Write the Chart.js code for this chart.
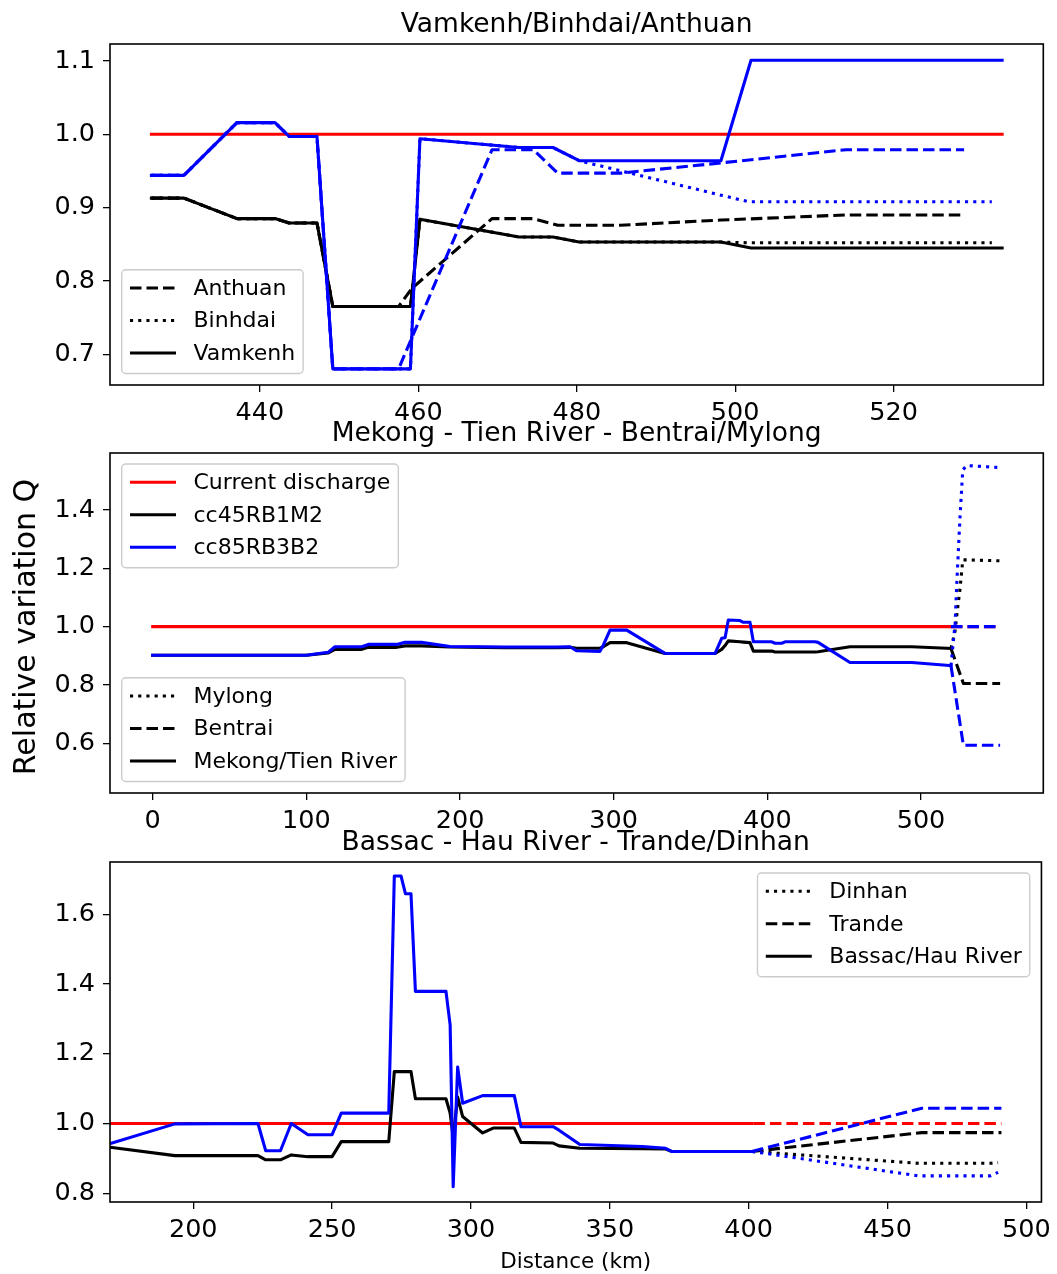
<!DOCTYPE html>
<html>
<head>
<meta charset="utf-8">
<title>Relative variation of discharge along the Mekong branches</title>
<script src="https://cdn.jsdelivr.net/npm/chart.js@4/dist/chart.umd.min.js"></script>
<style>
  html, body { margin: 0; padding: 0; background: #fff; }
  body { width: 1057px; height: 1274px; position: relative; overflow: hidden; }
  canvas { position: absolute; left: 0; }
</style>
</head>
<body>
<canvas id="upper" width="1057" height="431" style="top:0px"></canvas>
<canvas id="tien" width="1057" height="430" style="top:409px"></canvas>
<canvas id="hau" width="1057" height="456" style="top:818px"></canvas>
<script>
// ---- Vamkenh / Binhdai / Anthuan (km, relative discharge) ----
const vamkenhKm   = [426.3, 430.4, 437.1, 441.9, 443.7, 447.2, 449.2, 459.0, 460.2, 472.7, 477.0, 480.3, 498.2, 502.0, 533.7];
const vamkenhCc45 = [0.913, 0.913, 0.885, 0.885, 0.879, 0.879, 0.765, 0.765, 0.884, 0.860, 0.860, 0.853, 0.853, 0.845, 0.845];
const vamkenhCc85 = [0.944, 0.944, 1.016, 1.016, 0.997, 0.997, 0.680, 0.680, 0.994, 0.982, 0.982, 0.964, 0.964, 1.101, 1.101];

const binhdaiKm   = [426.3, 430.4, 437.1, 441.9, 443.7, 447.2, 449.2, 459.0, 460.2, 472.7, 477.0, 480.3, 498.2, 501.7, 532.4];
const binhdaiCc45 = [0.913, 0.913, 0.885, 0.885, 0.879, 0.879, 0.765, 0.765, 0.884, 0.860, 0.860, 0.853, 0.853, 0.852, 0.852];
const binhdaiCc85 = [0.944, 0.944, 1.016, 1.016, 0.997, 0.997, 0.680, 0.680, 0.994, 0.982, 0.982, 0.964, 0.917, 0.908, 0.908];

const anthuanKm   = [426.3, 430.4, 437.1, 441.9, 443.7, 447.2, 449.2, 457.5, 459.2, 469.3, 474.5, 477.6, 485.5, 498.2, 514.0, 528.9];
const anthuanCc45 = [0.913, 0.913, 0.885, 0.885, 0.879, 0.879, 0.765, 0.765, 0.790, 0.885, 0.885, 0.876, 0.876, 0.883, 0.890, 0.890];
const anthuanCc85 = [0.944, 0.944, 1.016, 1.016, 0.997, 0.997, 0.680, 0.680, 0.723, 0.979, 0.979, 0.947, 0.947, 0.961, 0.979, 0.979];

const upperCurrentKm = [426.3, 533.7];
const upperCurrent   = [1.0, 1.0];
const upperXTicks = [440, 460, 480, 500, 520];
const upperYTicks = [0.7, 0.8, 0.9, 1.0, 1.1];

// ---- Mekong - Tien River with Bentrai / Mylong ----
const tienKm   = [0, 100, 114.3, 118.6, 136, 140.3, 158.8, 164.2, 175, 193.5, 229, 263, 271.6, 276, 291, 293.3, 297.6, 308.5, 333.4, 366, 370.3, 372.5, 374.6, 382.2, 384.4, 388.7, 390.9, 402.9, 405, 409.4, 411.5, 431, 433, 453.8, 494, 519.5];
const tienCc45 = [0.902, 0.902, 0.910, 0.922, 0.922, 0.929, 0.929, 0.934, 0.934, 0.930, 0.928, 0.928, 0.929, 0.926, 0.926, 0.931, 0.945, 0.945, 0.908, 0.908, 0.922, 0.935, 0.951, 0.948, 0.947, 0.945, 0.916, 0.916, 0.913, 0.913, 0.913, 0.913, 0.914, 0.931, 0.931, 0.925];
const tienCc85 = [0.902, 0.902, 0.912, 0.931, 0.931, 0.939, 0.939, 0.946, 0.946, 0.932, 0.930, 0.930, 0.931, 0.917, 0.915, 0.937, 0.988, 0.988, 0.908, 0.908, 0.960, 0.962, 1.023, 1.021, 1.015, 1.015, 0.948, 0.948, 0.943, 0.943, 0.948, 0.948, 0.946, 0.877, 0.877, 0.866];

const mylongKm   = [519.5, 522.2, 523.3, 525.4, 527.2, 529.8, 551.5];
const mylongCc45 = [0.925, 0.985, 1.040, 1.130, 1.229, 1.229, 1.226];
const mylongCc85 = [0.866, 1.011, 1.149, 1.377, 1.538, 1.553, 1.546];

const bentraiKm   = [519.5, 527.6, 551.5];
const bentraiCc45 = [0.925, 0.805, 0.805];
const bentraiCc85 = [0.866, 0.593, 0.593];

const tienCurrentKm    = [0, 519.5];
const tienCurrent      = [1.0, 1.0];
const bentraiCurrentKm = [519.5, 551.5];
const bentraiCurrent   = [1.0, 1.0];
const tienXTicks = [0, 100, 200, 300, 400, 500];
const tienYTicks = [0.6, 0.8, 1.0, 1.2, 1.4];

// ---- Bassac - Hau River with Trande / Dinhan ----
const bassacKm   = [170, 193.4, 223.3, 226.1, 231.4, 235.3, 241.3, 250.0, 253.3, 270.4, 272.4, 274.8, 276.4, 278.4, 280.0, 291.0, 292.5, 293.6, 295.2, 297.0, 304.2, 308.0, 315.6, 318.0, 329.6, 331.7, 339.2, 361.7, 370.1, 372.2, 401.2];
const bassacCc45 = [0.932, 0.908, 0.908, 0.896, 0.896, 0.910, 0.905, 0.905, 0.948, 0.948, 1.149, 1.149, 1.149, 1.149, 1.071, 1.071, 1.030, 0.960, 1.076, 1.020, 0.973, 0.987, 0.987, 0.946, 0.944, 0.936, 0.929, 0.928, 0.927, 0.920, 0.920];
const bassacCc85 = [0.942, 0.999, 1.000, 0.922, 0.922, 1.000, 0.968, 0.968, 1.030, 1.030, 1.710, 1.710, 1.659, 1.659, 1.379, 1.379, 1.283, 0.819, 1.162, 1.058, 1.080, 1.080, 1.080, 0.991, 0.991, 0.981, 0.940, 0.934, 0.929, 0.920, 0.920];

const trandeKm   = [401.2, 462.3, 491.0];
const trandeCc45 = [0.920, 0.974, 0.974];
const trandeCc85 = [0.920, 1.044, 1.044];

const dinhanKm   = [401.2, 461.1, 487.0, 489.8];
const dinhanCc45 = [0.920, 0.886, 0.886, 0.888];
const dinhanCc85 = [0.920, 0.850, 0.850, 0.860];

const bassacCurrentKm = [170, 401.2];
const bassacCurrent   = [1.0, 1.0];
const trandeCurrentKm = [170, 491.0];
const trandeCurrent   = [1.0, 1.0];
const hauXTicks = [200, 250, 300, 350, 400, 450, 500];
const hauYTicks = [0.8, 1.0, 1.2, 1.4, 1.6];

// ---- styling ----
const FONT = '"DejaVu Sans", sans-serif';
const RED = '#ff0000', BLACK = '#000000', BLUE = '#0000ff';
const LW = 3.1;
const DASHES = { solid: [], dashed: [11.5, 5], dotted: [3.1, 5.1] };

Chart.defaults.font.family = FONT;

function line(km, values, color, style) {
  return {
    data: km.map((x, i) => ({ x, y: values[i] })),
    borderColor: color,
    borderWidth: LW,
    borderDash: DASHES[style],
    borderCapStyle: style === 'solid' ? 'square' : 'butt',
    borderJoinStyle: 'round',
    pointRadius: 0,
    fill: false,
    tension: 0
  };
}

function drawLegend(ctx, area, lg) {
  const fs = 22, rowH = 32.5, padTop = 18.3, padBot = 20.5;
  const padL = 8.3, handle = 46, gap = 17.5, padR = 8;
  ctx.font = `${fs}px ${FONT}`;
  const tw = Math.max(...lg.items.map(it => ctx.measureText(it.label).width));
  const w = padL + handle + gap + tw + padR;
  const h = padTop + (lg.items.length - 1) * rowH + padBot;
  const x = lg.loc.endsWith('left') ? area.left + 11.7 : area.right - 11.7 - w;
  const y = lg.loc.startsWith('upper') ? area.top + 11 : area.bottom - 11.5 - h;
  ctx.beginPath();
  ctx.roundRect(x, y, w, h, 4);
  ctx.fillStyle = 'rgba(255,255,255,0.8)';
  ctx.fill();
  ctx.strokeStyle = '#cccccc';
  ctx.lineWidth = 1.4;
  ctx.setLineDash([]);
  ctx.stroke();
  lg.items.forEach((it, i) => {
    const cy = y + padTop + i * rowH;
    ctx.beginPath();
    ctx.setLineDash(DASHES[it.style]);
    ctx.lineCap = 'butt';
    ctx.strokeStyle = it.color;
    ctx.lineWidth = LW;
    ctx.moveTo(x + padL, cy);
    ctx.lineTo(x + padL + handle, cy);
    ctx.stroke();
    ctx.setLineDash([]);
    ctx.fillStyle = '#000';
    ctx.textAlign = 'left';
    ctx.textBaseline = 'middle';
    ctx.fillText(it.label, x + padL + handle + gap, cy + 1);
  });
}

// Frame, subplot title, legends and axis labels drawn over the plot.
const decorations = {
  id: 'decorations',
  afterDraw(chart, args, opts) {
    const ctx = chart.ctx, a = chart.chartArea;
    ctx.save();
    ctx.setLineDash([]);
    ctx.strokeStyle = '#000';
    ctx.lineWidth = 1.6;
    ctx.strokeRect(a.left, a.top, a.right - a.left, a.bottom - a.top);

    ctx.fillStyle = '#000';
    ctx.font = `26.5px ${FONT}`;
    ctx.textAlign = 'center';
    ctx.textBaseline = 'alphabetic';
    ctx.fillText(opts.title, (a.left + a.right) / 2, a.top - 12);

    (opts.legends || []).forEach(lg => drawLegend(ctx, a, lg));

    if (opts.yLabel) {
      ctx.save();
      ctx.translate(27, (a.top + a.bottom) / 2 + 4);
      ctx.rotate(-Math.PI / 2);
      ctx.font = `30px ${FONT}`;
      ctx.fillStyle = '#000';
      ctx.textAlign = 'center';
      ctx.textBaseline = 'middle';
      ctx.fillText(opts.yLabel, 0, 0);
      ctx.restore();
    }
    if (opts.xLabel) {
      ctx.font = `21.5px ${FONT}`;
      ctx.fillStyle = '#000';
      ctx.textAlign = 'center';
      ctx.textBaseline = 'middle';
      ctx.fillText(opts.xLabel, (a.left + a.right) / 2, a.bottom + 60);
    }
    ctx.restore();
  }
};

function makeChart(id, cfg) {
  const tickFont = { family: FONT, size: 25.5 };
  const tickGrid = { display: true, drawOnChartArea: false, drawTicks: true, tickLength: 7, color: '#000', lineWidth: 1.3 };
  return new Chart(document.getElementById(id), {
    type: 'line',
    data: { datasets: cfg.datasets.slice().reverse() },
    options: {
      responsive: false,
      animation: false,
      events: [],
      layout: { padding: { top: 44, right: 13.7, left: 0, bottom: 0 } },
      plugins: {
        legend: { display: false },
        tooltip: { enabled: false },
        decorations: cfg.deco
      },
      scales: {
        x: {
          type: 'linear',
          min: cfg.xRange[0], max: cfg.xRange[1],
          afterBuildTicks: s => { s.ticks = cfg.xTicks.map(v => ({ value: v })); },
          afterFit: s => { s.height = cfg.xAxisHeight; },
          ticks: { font: tickFont, color: '#000', padding: 6, maxRotation: 0, callback: v => String(v) },
          grid: tickGrid,
          border: { display: false }
        },
        y: {
          type: 'linear',
          min: cfg.yRange[0], max: cfg.yRange[1],
          afterBuildTicks: s => { s.ticks = cfg.yTicks.map(v => ({ value: v })); },
          afterFit: s => { s.width = 110; },
          ticks: { font: tickFont, color: '#000', padding: 8, callback: v => v.toFixed(1) },
          grid: tickGrid,
          border: { display: false }
        }
      }
    },
    plugins: [decorations]
  });
}

// datasets listed bottom-to-top
makeChart('upper', {
  xRange: [421.07, 538.9], yRange: [0.658, 1.1232],
  xTicks: upperXTicks, yTicks: upperYTicks, xAxisHeight: 46,
  datasets: [
    line(upperCurrentKm, upperCurrent, RED, 'solid'),
    line(anthuanKm, anthuanCc45, BLACK, 'dashed'),
    line(binhdaiKm, binhdaiCc45, BLACK, 'dotted'),
    line(vamkenhKm, vamkenhCc45, BLACK, 'solid'),
    line(anthuanKm, anthuanCc85, BLUE, 'dashed'),
    line(binhdaiKm, binhdaiCc85, BLUE, 'dotted'),
    line(vamkenhKm, vamkenhCc85, BLUE, 'solid')
  ],
  deco: {
    title: 'Vamkenh/Binhdai/Anthuan',
    legends: [{ loc: 'lower left', items: [
      { label: 'Anthuan', color: BLACK, style: 'dashed' },
      { label: 'Binhdai', color: BLACK, style: 'dotted' },
      { label: 'Vamkenh', color: BLACK, style: 'solid' }
    ] }]
  }
});

makeChart('tien', {
  xRange: [-27.8, 579.6], yRange: [0.429, 1.596],
  xTicks: tienXTicks, yTicks: tienYTicks, xAxisHeight: 46,
  datasets: [
    line(tienCurrentKm, tienCurrent, RED, 'solid'),
    line(bentraiCurrentKm, bentraiCurrent, RED, 'dashed'),
    line(tienKm, tienCc45, BLACK, 'solid'),
    line(bentraiKm, bentraiCc45, BLACK, 'dashed'),
    line(mylongKm, mylongCc45, BLACK, 'dotted'),
    line(tienKm, tienCc85, BLUE, 'solid'),
    line(bentraiCurrentKm, bentraiCurrent, BLUE, 'dashed'),
    line(bentraiKm, bentraiCc85, BLUE, 'dashed'),
    line(mylongKm, mylongCc85, BLUE, 'dotted')
  ],
  deco: {
    title: 'Mekong - Tien River - Bentrai/Mylong',
    yLabel: 'Relative variation Q',
    legends: [
      { loc: 'upper left', items: [
        { label: 'Current discharge', color: RED, style: 'solid' },
        { label: 'cc45RB1M2', color: BLACK, style: 'solid' },
        { label: 'cc85RB3B2', color: BLUE, style: 'solid' }
      ] },
      { loc: 'lower left', items: [
        { label: 'Mylong', color: BLACK, style: 'dotted' },
        { label: 'Bentrai', color: BLACK, style: 'dashed' },
        { label: 'Mekong/Tien River', color: BLACK, style: 'solid' }
      ] }
    ]
  }
});

makeChart('hau', {
  xRange: [170.03, 505.4], yRange: [0.775, 1.750],
  xTicks: hauXTicks, yTicks: hauYTicks, xAxisHeight: 72,
  datasets: [
    line(bassacCurrentKm, bassacCurrent, RED, 'solid'),
    line(trandeCurrentKm, trandeCurrent, RED, 'dashed'),
    line(bassacKm, bassacCc45, BLACK, 'solid'),
    line(trandeKm, trandeCc45, BLACK, 'dashed'),
    line(dinhanKm, dinhanCc45, BLACK, 'dotted'),
    line(bassacKm, bassacCc85, BLUE, 'solid'),
    line(trandeKm, trandeCc85, BLUE, 'dashed'),
    line(dinhanKm, dinhanCc85, BLUE, 'dotted')
  ],
  deco: {
    title: 'Bassac - Hau River - Trande/Dinhan',
    xLabel: 'Distance (km)',
    legends: [{ loc: 'upper right', items: [
      { label: 'Dinhan', color: BLACK, style: 'dotted' },
      { label: 'Trande', color: BLACK, style: 'dashed' },
      { label: 'Bassac/Hau River', color: BLACK, style: 'solid' }
    ] }]
  }
});
</script>
</body>
</html>
